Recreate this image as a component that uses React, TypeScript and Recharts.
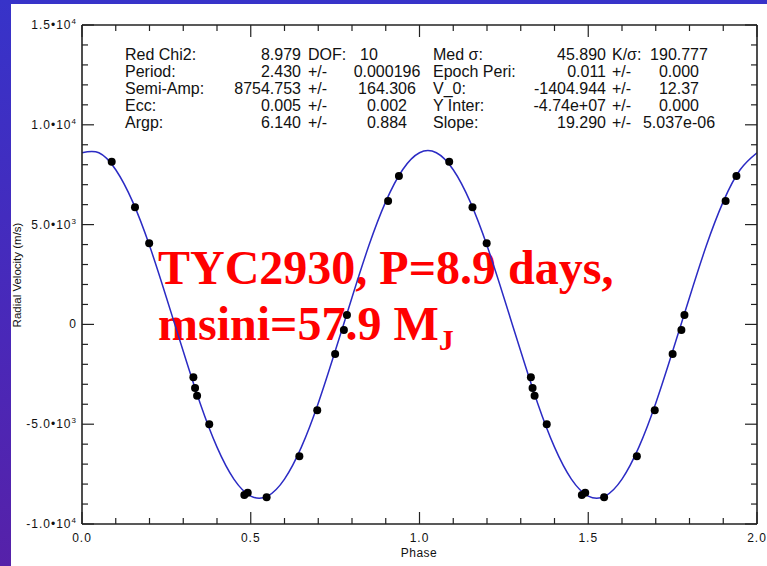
import React from "react";
import { ComposedChart, Line, Scatter, XAxis, YAxis } from "recharts";

// fitted orbit, every 0.05 in phase
const curvePhase = [
  0, 0.05, 0.1, 0.15, 0.2, 0.25, 0.3, 0.35, 0.4, 0.45, 0.5, 0.55, 0.6, 0.65, 0.7, 0.75, 0.8, 0.85, 0.9, 0.95,
  1.0, 1.05, 1.1, 1.15, 1.2, 1.25, 1.3, 1.35, 1.4, 1.45, 1.5, 1.55, 1.6, 1.65, 1.7, 1.75, 1.8, 1.85, 1.9, 1.95, 2.0,
];
const curveVelocity = [
  8600, 8600, 7750, 6150, 3950, 1350, -1350, -3950, -6150, -7750, -8600, -8600, -7750, -6150, -3950, -1350, 1350,
  3950, 6150, 7750, 8600, 8600, 7750, 6150, 3950, 1350, -1350, -3950, -6150, -7750, -8600, -8600, -7750, -6150,
  -3950, -1350, 1350, 3950, 6150, 7750, 8600,
];

// observations (plotted twice, once per cycle)
const obsPhase = [
  0.088, 0.157, 0.199, 0.33, 0.335, 0.341, 0.377, 0.481, 0.491, 0.547, 0.644, 0.697, 0.75, 0.776, 0.785, 0.907, 0.939,
  1.088, 1.157, 1.199, 1.33, 1.335, 1.341, 1.377, 1.481, 1.491, 1.547, 1.644, 1.697, 1.75, 1.776, 1.785, 1.907, 1.939,
];
const obsVelocity = [
  8150, 5870, 4060, -2650, -3190, -3570, -5000, -8550, -8430, -8660, -6610, -4300, -1480, -280, 470, 6180, 7440,
  8150, 5870, 4060, -2650, -3190, -3570, -5000, -8550, -8430, -8660, -6610, -4300, -1480, -280, 470, 6180, 7440,
];

const yMajorTicks = [-10000, -5000, 0, 5000, 10000, 15000];
const yTickMantissa = ["-1.0", "-5.0", "0", "5.0", "1.0", "1.5"];
const yTickExponent = ["4", "3", "", "3", "4", "4"];
const xTickLabels = ["0.0", "0.5", "1.0", "1.5", "2.0"];

const leftLabels = ["Red Chi2:", "Period:", "Semi-Amp:", "Ecc:", "Argp:"];
const leftValues = ["8.979", "2.430", "8754.753", "0.005", "6.140"];
const leftSep = ["DOF:", "+/-", "+/-", "+/-", "+/-"];
const leftErrors = ["10", "0.000196", "164.306", "0.002", "0.884"];
const rightLabels = ["Med σ:", "Epoch Peri:", "V_0:", "Y Inter:", "Slope:"];
const rightValues = ["45.890", "0.011", "-1404.944", "-4.74e+07", "19.290"];
const rightSep = ["K/σ:", "+/-", "+/-", "+/-", "+/-"];
const rightErrors = ["190.777", "0.000", "12.37", "0.000", "5.037e-06"];

const curveData = curvePhase.map((p, i) => ({ phase: p, v: curveVelocity[i] }));
const obsData = obsPhase.map((p, i) => ({ phase: p, v: obsVelocity[i] }));

const yTicks: number[] = [];
for (let v = -10000; v <= 15000; v += 1000) yTicks.push(v);
const xTicks: number[] = [];
for (let i = 0; i <= 20; i++) xTicks.push(i / 10);

const axisColor = "#222";
const sans = "'Liberation Sans', Arial, sans-serif";

const YTick = ({ x, y, payload, side }: any) => {
  const v = payload.value;
  const idx = yMajorTicks.indexOf(v);
  const len = idx >= 0 ? 12 : 6;
  const dir = side === "left" ? 1 : -1;
  return (
    <g>
      <line x1={x} y1={y} x2={x + dir * len} y2={y} stroke={axisColor} strokeWidth={1.2} />
      {side === "left" && idx >= 0 && (
        <text x={x - 5} y={y + 4} textAnchor="end" fontSize={12} letterSpacing={1} fontFamily={sans} fill="#111">
          {yTickExponent[idx] ? yTickMantissa[idx] + "•10" : yTickMantissa[idx]}
          {yTickExponent[idx] && (
            <tspan dy={-5} fontSize={8}>
              {yTickExponent[idx]}
            </tspan>
          )}
        </text>
      )}
    </g>
  );
};

const XTick = ({ x, y, payload, side }: any) => {
  const v = payload.value;
  const step = Math.round(v * 10);
  const major = step % 5 === 0;
  const len = major ? 12 : 6;
  const dir = side === "bottom" ? -1 : 1;
  return (
    <g>
      <line x1={x} y1={y} x2={x} y2={y + dir * len} stroke={axisColor} strokeWidth={1.2} />
      {side === "bottom" && major && (
        <text x={x} y={y + 18} textAnchor="middle" fontSize={12} letterSpacing={1} fontFamily={sans} fill="#111">
          {xTickLabels[step / 5]}
        </text>
      )}
    </g>
  );
};

const Dot = (props: any) => <circle cx={props.cx} cy={props.cy} r={4} fill="#000" />;

const statRows = [60, 77, 94, 111, 128];

export default function App() {
  return (
    <div
      style={{
        position: "absolute",
        left: 0,
        top: 0,
        width: 767,
        height: 566,
        overflow: "hidden",
        background: "linear-gradient(180deg, #3733c9 0%, #4a28b8 60%, #5621a9 100%)",
      }}
    >
      <div style={{ position: "absolute", left: 11, top: 4, right: 0, bottom: 0, background: "#fff" }} />

      <svg width={767} height={566} style={{ position: "absolute", left: 0, top: 0 }}>
        <text x={158} y={284} fontFamily="'Liberation Serif', 'Times New Roman', serif" fontWeight="bold" fontSize={48} fill="#ff0000">
          TYC2930, P=8.9 days,
        </text>
        <text x={158} y={340} fontFamily="'Liberation Serif', 'Times New Roman', serif" fontWeight="bold" fontSize={48} fill="#ff0000">
          msini=57.9 M
          <tspan dy={10} fontSize={30}>
            J
          </tspan>
        </text>
      </svg>

      <div style={{ position: "absolute", left: 0, top: 0 }}>
        <ComposedChart width={767} height={566} margin={{ top: 24, right: 9, bottom: 41, left: 81 }}>
          <XAxis
            xAxisId="b"
            dataKey="phase"
            type="number"
            domain={[0, 2]}
            ticks={xTicks}
            interval={0}
            height={1}
            tickSize={0}
            tickMargin={0}
            tickLine={false}
            axisLine={{ stroke: axisColor, strokeWidth: 1.6 }}
            tick={<XTick side="bottom" />}
            allowDataOverflow
          />
          <XAxis
            xAxisId="t"
            orientation="top"
            dataKey="phase"
            type="number"
            domain={[0, 2]}
            ticks={xTicks}
            interval={0}
            height={1}
            tickSize={0}
            tickMargin={0}
            tickLine={false}
            axisLine={{ stroke: axisColor, strokeWidth: 1.6 }}
            tick={<XTick side="top" />}
            allowDataOverflow
          />
          <YAxis
            yAxisId="l"
            type="number"
            domain={[-10000, 15000]}
            ticks={yTicks}
            interval={0}
            width={1}
            tickSize={0}
            tickMargin={0}
            tickLine={false}
            axisLine={{ stroke: axisColor, strokeWidth: 1.6 }}
            tick={<YTick side="left" />}
            allowDataOverflow
          />
          <YAxis
            yAxisId="r"
            orientation="right"
            type="number"
            domain={[-10000, 15000]}
            ticks={yTicks}
            interval={0}
            width={1}
            tickSize={0}
            tickMargin={0}
            tickLine={false}
            axisLine={{ stroke: axisColor, strokeWidth: 1.6 }}
            tick={<YTick side="right" />}
            allowDataOverflow
          />
          <Line
            xAxisId="b"
            yAxisId="l"
            data={curveData}
            dataKey="v"
            type="natural"
            stroke="#2b2bc4"
            strokeWidth={1.5}
            dot={false}
            activeDot={false}
            isAnimationActive={false}
          />
          <Scatter xAxisId="b" yAxisId="l" data={obsData} dataKey="v" shape={<Dot />} isAnimationActive={false} />
        </ComposedChart>
      </div>

      <svg width={767} height={566} style={{ position: "absolute", left: 0, top: 0, pointerEvents: "none" }}>
        <text
          transform="translate(21 275) rotate(-90)"
          textAnchor="middle"
          fontSize={11.5}
          fontFamily={sans}
          fill="#111"
        >
          Radial Velocity (m/s)
        </text>
        <text x={419} y={557} textAnchor="middle" fontSize={12} letterSpacing={0.5} fontFamily={sans} fill="#111">
          Phase
        </text>
        <g fontFamily={sans} fontSize={16} fill="#111">
          {statRows.map((y, i) => (
            <g key={i}>
              <text x={125} y={y}>{leftLabels[i]}</text>
              <text x={301} y={y} textAnchor="end">{leftValues[i]}</text>
              <text x={308} y={y}>{leftSep[i]}</text>
              {i === 0 ? (
                <text x={360} y={y}>{leftErrors[i]}</text>
              ) : (
                <text x={387} y={y} textAnchor="middle">{leftErrors[i]}</text>
              )}
              <text x={433} y={y}>{rightLabels[i]}</text>
              <text x={606} y={y} textAnchor="end">{rightValues[i]}</text>
              <text x={612} y={y}>{rightSep[i]}</text>
              <text x={679} y={y} textAnchor="middle">{rightErrors[i]}</text>
            </g>
          ))}
        </g>
      </svg>
    </div>
  );
}
